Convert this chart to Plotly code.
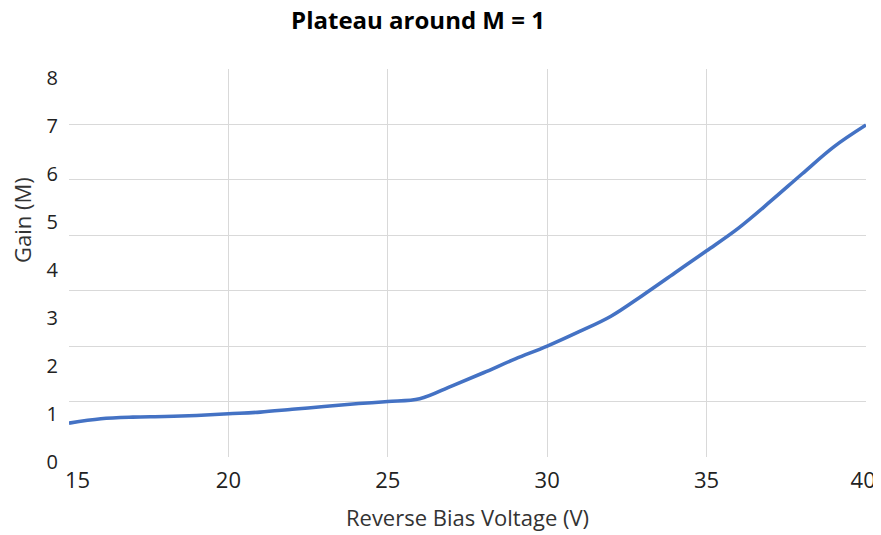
import plotly.graph_objects as go

# Reverse bias voltage (V)
voltage = [15, 16, 17, 18, 19, 20, 21, 22, 23, 24, 25, 26, 27, 28,
           29, 30, 31, 32, 33, 34, 35, 36, 37, 38, 39, 40]
# Gain (M), read in grid units
gain = [0.61, 0.69, 0.72, 0.73, 0.75, 0.78, 0.81, 0.86, 0.91, 0.96, 1.00, 1.05,
        1.28, 1.52, 1.77, 2.00, 2.26, 2.54, 2.92, 3.32, 3.72, 4.13, 4.61, 5.11,
        5.60, 5.99]
x_ticks = [15, 20, 25, 30, 35, 40]
x_tick_labels = ["\u00a0\u00a0\u00a015", "20", "25", "30", "35", "40\u00a0"]
y_tick_labels = [0, 1, 2, 3, 4, 5, 6, 7, 8]

FONT = "Open Sans"
W, H = 873, 527  # page adds an 8px body margin
fig = go.Figure()
fig.add_trace(go.Scatter(
    x=voltage, y=gain, mode="lines",
    line=dict(color="#4472C4", width=3.6, shape="spline", smoothing=1.0),
    showlegend=False, hoverinfo="x+y"))
fig.add_trace(go.Scatter(x=[], y=[], yaxis="y2", showlegend=False, hoverinfo="skip"))

fig.update_layout(
    width=W, height=H,
    margin=dict(l=61, r=15, t=61, b=78),
    paper_bgcolor="white", plot_bgcolor="white",
    title=dict(text="<b>Plateau around M = 1</b>", x=410/W, xanchor="center",
               y=1 - 4/H, yanchor="top", pad=dict(t=0),
               font=dict(family=FONT, size=24, color="black")),
    xaxis=dict(range=[15, 40], tickvals=x_ticks, ticktext=x_tick_labels,
               showgrid=True, gridcolor="#D9D9D9",
               gridwidth=1, zeroline=False, showline=False, automargin=False,
               ticklabelstandoff=8, ticklabeloverflow="allow",
               tickfont=dict(family=FONT, size=22, color="#222"),
               title=dict(text="Reverse Bias Voltage (V)", standoff=17,
                          font=dict(family=FONT, size=22, color="#333"))),
    yaxis=dict(range=[0, 7], dtick=1, showgrid=True, gridcolor="#D9D9D9", gridwidth=1,
               zeroline=False, showline=False, showticklabels=False, automargin=False),
    yaxis2=dict(overlaying="y", side="left", range=[0, 8.083], tickvals=y_tick_labels,
                showgrid=False, zeroline=False, showline=False, ticklabelshift=5,
                ticklabelstandoff=10, automargin=False,
                tickfont=dict(family=FONT, size=20, color="#222")),
    annotations=[dict(text="Gain (M)", textangle=-90, showarrow=False,
                      xref="paper", yref="paper",
                      x=(22 - 69) / 797, y=(457 - 220) / 388,
                      xanchor="center", yanchor="middle",
                      font=dict(family=FONT, size=22, color="#333"))],
)
fig.write_html("out.html")
